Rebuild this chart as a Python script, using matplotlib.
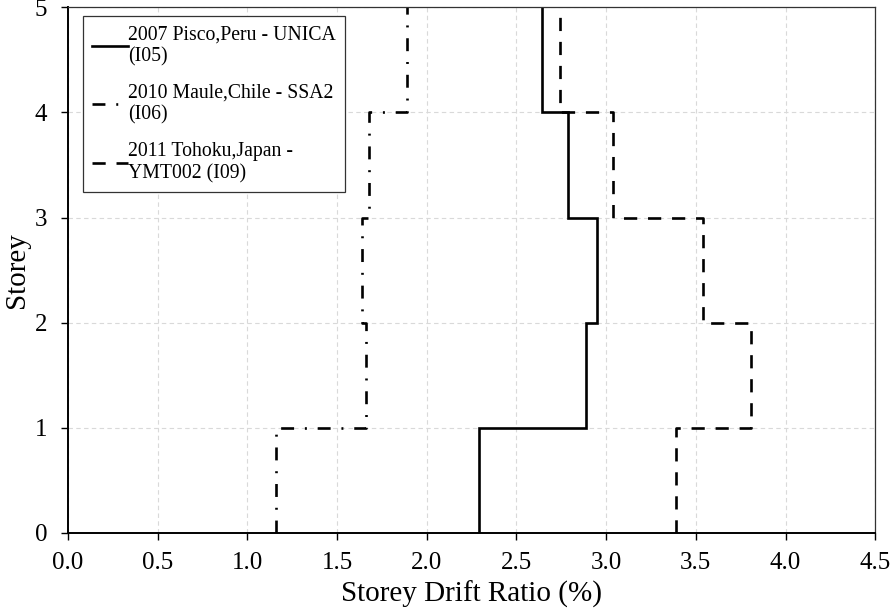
import numpy as np
import matplotlib
matplotlib.use('Agg')
import matplotlib.pyplot as plt

plt.rcParams['font.family'] = ['Liberation Serif', 'DejaVu Serif']

# storey boundaries and drift ratio (%) per storey (ground -> top)
storey_edges = [0, 1, 2, 3, 4, 5]
pisco_drift = [2.29, 2.89, 2.95, 2.79, 2.64]
maule_drift = [1.16, 1.66, 1.64, 1.68, 1.89]
tohoku_drift = [3.39, 3.81, 3.54, 3.04, 2.74]

labels = ['2007 Pisco,Peru - UNICA\n(I05)',
          '2010 Maule,Chile - SSA2\n(I06)',
          '2011 Tohoku,Japan -\nYMT002 (I09)']


def step_profile(drift):
    # vertical run for each storey, joined by horizontal steps at the floors
    x = np.repeat(drift, 2)
    y = np.repeat(storey_edges, 2)[1:-1]
    return x, y


fig = plt.figure(figsize=(8.91, 6.11), dpi=100)
ax = fig.add_axes([0.0763, 0.128, 0.906, 0.860])

lw = 1.9
x, y = step_profile(pisco_drift)
ax.plot(x, y, color='black', lw=lw, solid_joinstyle='miter', label=labels[0])
x, y = step_profile(maule_drift)
ax.plot(x, y, color='black', lw=lw, dashes=(4.9, 4.1, 0.75, 4.1),
        dash_capstyle='butt', label=labels[1])
x, y = step_profile(tohoku_drift)
ax.plot(x, y, color='black', lw=lw, dashes=(5.0, 4.1),
        dash_capstyle='butt', label=labels[2])

ax.set_xlim(0, 4.5)
ax.set_ylim(0, 5)
ax.set_xticks(np.arange(0, 4.51, 0.5))
ax.set_xticklabels([f'{v:.1f}' for v in np.arange(0, 4.51, 0.5)])
ax.set_yticks(range(6))
ax.tick_params(direction='out', length=5, width=1, labelsize=18)
ax.tick_params(axis='x', pad=9)
ax.tick_params(axis='y', pad=10)

ax.grid(True, color='#d9d9d9', linestyle=(0, (4, 3)), linewidth=0.8)
ax.set_axisbelow(True)

for side in ['left', 'bottom']:
    ax.spines[side].set_linewidth(1.4)
for side in ['top', 'right']:
    ax.spines[side].set_linewidth(0.9)
    ax.spines[side].set_color('#333333')

ax.set_xlabel('Storey Drift Ratio (%)', fontsize=21, labelpad=5)
ax.set_ylabel('Storey', fontsize=21, labelpad=3)

leg = ax.legend(loc='upper left', bbox_to_anchor=(0.0186, 0.983), borderaxespad=0,
                fontsize=14.2, handlelength=1.85, handletextpad=0.0,
                labelspacing=0.88, borderpad=0.45, fancybox=False,
                framealpha=1, edgecolor='#333333')
leg.get_frame().set_linewidth(0.9)

fig.savefig('out.png', dpi=100)
